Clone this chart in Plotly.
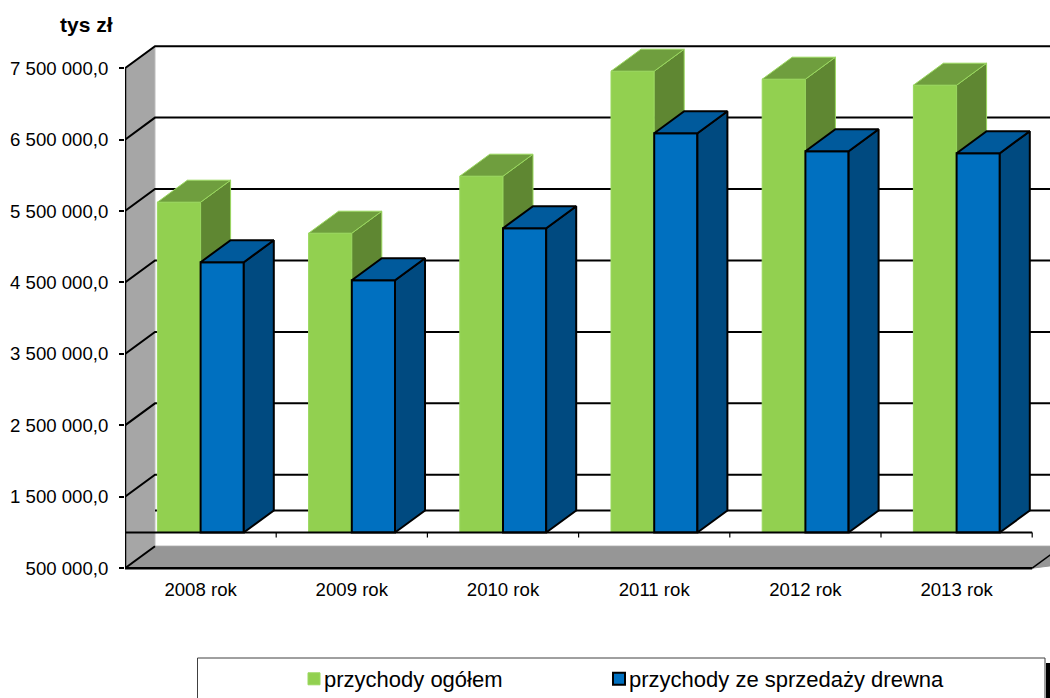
import plotly.graph_objects as go

categories = ["2008 rok", "2009 rok", "2010 rok", "2011 rok", "2012 rok", "2013 rok"]
przychody_ogolem = [5624000, 5190000, 5988000, 7458000, 7346000, 7262000]
przychody_drewno = [4784000, 4532000, 5260000, 6590000, 6338000, 6310000]
y_ticks = [500000, 1500000, 2500000, 3500000, 4500000, 5500000, 6500000, 7500000]
y_tick_labels = ["500 000,0", "1 500 000,0", "2 500 000,0", "3 500 000,0",
                 "4 500 000,0", "5 500 000,0", "6 500 000,0", "7 500 000,0"]

W, H = 1050, 698
L, T, B = 125, 30, 570          # plot area, px
PX_PER_CAT = 151.2
PX_PER_VAL = 71.43 / 1e6
Y0 = 500000                     # lowest labelled value
Y0_PX = 568.2                   # where that value sits
BASE = 1000000                  # where the category axis crosses
DX = 30 / PX_PER_CAT            # depth of the 3D box, in axis units
DY = 22 / PX_PER_VAL
BAR_W = 43.2 / PX_PER_CAT
XMAX = (W - L) / PX_PER_CAT
YLOW = Y0 - (B - Y0_PX) / PX_PER_VAL
YMAX = YLOW + (B - T) / PX_PER_VAL


def px(x):
    return (x - L) / (W - L)


def py(y):
    return (B - y) / (B - T)


fig = go.Figure()


def poly(xs, ys, fill, line, lw, layer):
    fig.add_trace(go.Scatter(x=xs, y=ys, mode="lines", fill="toself", fillcolor=fill,
                             line=dict(color=line, width=lw), xaxis=f"x{layer}", yaxis=f"y{layer}",
                             showlegend=False, hoverinfo="skip"))


def line(xs, ys, layer, width=2, color="#000000"):
    fig.add_trace(go.Scatter(x=xs, y=ys, mode="lines", line=dict(color=color, width=width),
                             xaxis=f"x{layer}", yaxis=f"y{layer}", showlegend=False, hoverinfo="skip"))


# side wall and floor
ymax_tick = y_ticks[-1]
poly([0, DX, DX, 0, 0], [ymax_tick, ymax_tick + DY, Y0 + DY, Y0, ymax_tick], "#a6a6a6", "#bdbdbd", 1, "")
floor_right = 6
poly([0, DX, XMAX + 1, floor_right, 0], [Y0, Y0 + DY, Y0 + DY, Y0, Y0], "#969696", "#969696", 1, "")

# gridlines on the back wall, with their returns across the side wall
for v in y_ticks[1:]:
    line([0, DX, XMAX], [v, v + DY, v + DY], "")
line([DX, XMAX], [BASE + DY, BASE + DY], "")
line([0, DX], [Y0, Y0 + DY], "")
line([floor_right, floor_right + DX], [Y0, Y0 + DY], "", 1.5)
line([0, floor_right], [Y0, Y0], "", 2.5)


def bars(values, side, name, front, top, flank, edge, lw, layer, legendwidth=None):
    xs = [i + 0.5 for i in range(len(values))]
    offset = -BAR_W if side == 0 else 0
    for x, v in zip(xs, values):
        a = x + offset
        b = a + BAR_W
        poly([b, b + DX, b + DX, b, b], [BASE, BASE + DY, v + DY, v, BASE], flank, edge, lw, layer)
        poly([a, a + DX, b + DX, b, a], [v, v + DY, v + DY, v, v], top, edge, lw, layer)
    fig.add_trace(go.Bar(x=xs, y=[v - BASE for v in values], base=BASE, width=BAR_W, offset=offset,
                         name=name, marker=dict(color=front, line=dict(color=edge, width=lw)),
                         legendwidth=legendwidth, xaxis=f"x{layer}", yaxis=f"y{layer}"))


bars(przychody_ogolem, 0, "przychody ogółem", "#92d050", "#6f9e3e", "#5f8732", "#9ad85f", 1, 2, legendwidth=270)
bars(przychody_drewno, 1, "przychody ze sprzedaży drewna", "#0070c0", "#005a9c", "#004a80", "#000000", 2, 3)

# front axis line at the crossing value with its category ticks
line([0, floor_right], [BASE, BASE], 3, 2)
for i in range(7):
    line([i, i], [BASE, BASE - 5 / 71.43 * 1e6], 3, 1.2)
line([0, 0], [Y0, ymax_tick], 3, 2.5)

common_y = dict(range=[YLOW, YMAX], showgrid=False, zeroline=False)
common_x = dict(range=[0, XMAX], showgrid=False, zeroline=False)

fig.update_layout(
    width=W, height=H, barmode="overlay", paper_bgcolor="white", plot_bgcolor="white",
    margin=dict(l=L, r=0, t=T, b=H - B, pad=0),
    font=dict(family="Liberation Sans, Arial, sans-serif", color="#000000", size=18.6),
    xaxis=dict(**common_x, tickmode="array", tickvals=[i + 0.5 for i in range(6)], ticktext=categories,
               ticks="", showline=False, ticklabelstandoff=6, tickfont=dict(size=18.6)),
    yaxis=dict(**common_y, tickmode="array", tickvals=y_ticks, ticktext=y_tick_labels,
               ticks="outside", ticklen=5, tickwidth=2, tickcolor="#000000", showline=False,
               ticklabelstandoff=7, tickfont=dict(size=18.6)),
    xaxis2=dict(**common_x, overlaying="x", visible=False),
    yaxis2=dict(**common_y, overlaying="y", visible=False),
    xaxis3=dict(**common_x, overlaying="x", visible=False),
    yaxis3=dict(**common_y, overlaying="y", visible=False),
    showlegend=True,
    legend=dict(orientation="h", xref="container", yref="container", x=294 / W, y=1 - 658 / H,
                xanchor="left", yanchor="top", font=dict(size=22), bgcolor="rgba(0,0,0,0)",
                indentation=-10, traceorder="normal"),
    annotations=[dict(text="<b>tys zł</b>", xref="paper", yref="paper", x=px(115), y=py(24.5),
                      xanchor="right", yanchor="middle", showarrow=False, font=dict(size=21))],
    shapes=[
        dict(type="rect", xref="paper", yref="paper", x0=px(197.5), x1=px(1045), y0=py(658), y1=py(702),
             line=dict(color="#404040", width=1), fillcolor="white", layer="below"),
        dict(type="rect", xref="paper", yref="paper", x0=px(1046), x1=px(1052), y0=py(663), y1=py(702),
             line=dict(width=0), fillcolor="#000000", layer="below"),
    ],
)

fig.write_html("out.html", config={"displayModeBar": False},
               post_script="document.body.style.margin='0';document.body.style.overflow='hidden';"
                           "var s=document.createElement('style');"
                           "s.textContent='.legendsymbols{transform:translateX(10px)}';"
                           "document.head.appendChild(s);")
